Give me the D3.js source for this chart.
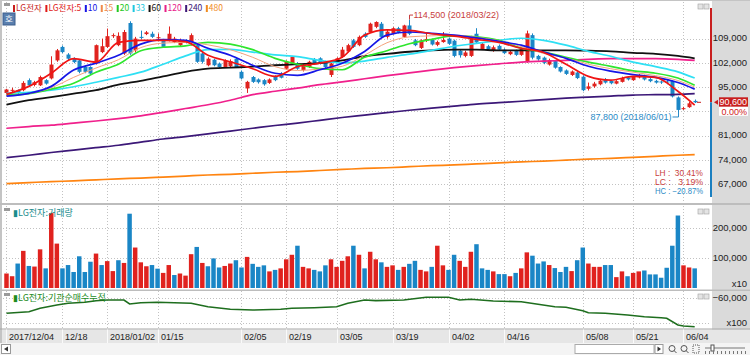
<!DOCTYPE html>
<html><head><meta charset="utf-8">
<script src="https://cdn.jsdelivr.net/npm/d3@7"></script>
<style>
body{margin:0;background:#fff;overflow:hidden}
svg{display:block}
text{font-family:"Liberation Sans",Arial,sans-serif}
.kr{font-family:"Noto Sans CJK KR","Liberation Sans",sans-serif}
</style></head>
<body><svg id="c" width="750" height="355"></svg>
<script>
// ---------------- DATA ----------------
const dates = ["2017-12-04","2017-12-05","2017-12-06","2017-12-07","2017-12-08","2017-12-11","2017-12-12","2017-12-13","2017-12-14","2017-12-15","2017-12-18","2017-12-19","2017-12-20","2017-12-21","2017-12-22","2017-12-26","2017-12-27","2017-12-28","2018-01-02","2018-01-03","2018-01-04","2018-01-05","2018-01-08","2018-01-09","2018-01-10","2018-01-11","2018-01-12","2018-01-15","2018-01-16","2018-01-17","2018-01-18","2018-01-19","2018-01-22","2018-01-23","2018-01-24","2018-01-25","2018-01-26","2018-01-29","2018-01-30","2018-01-31","2018-02-01","2018-02-02","2018-02-05","2018-02-06","2018-02-07","2018-02-08","2018-02-09","2018-02-12","2018-02-13","2018-02-14","2018-02-19","2018-02-20","2018-02-21","2018-02-22","2018-02-23","2018-02-26","2018-02-27","2018-02-28","2018-03-02","2018-03-05","2018-03-06","2018-03-07","2018-03-08","2018-03-09","2018-03-12","2018-03-13","2018-03-14","2018-03-15","2018-03-16","2018-03-19","2018-03-20","2018-03-21","2018-03-22","2018-03-23","2018-03-26","2018-03-27","2018-03-28","2018-03-29","2018-03-30","2018-04-02","2018-04-03","2018-04-04","2018-04-05","2018-04-06","2018-04-09","2018-04-10","2018-04-11","2018-04-12","2018-04-13","2018-04-16","2018-04-17","2018-04-18","2018-04-19","2018-04-20","2018-04-23","2018-04-24","2018-04-25","2018-04-26","2018-04-27","2018-04-30","2018-05-02","2018-05-03","2018-05-04","2018-05-08","2018-05-09","2018-05-10","2018-05-11","2018-05-14","2018-05-15","2018-05-16","2018-05-17","2018-05-18","2018-05-21","2018-05-23","2018-05-24","2018-05-25","2018-05-28","2018-05-29","2018-05-30","2018-05-31","2018-06-01","2018-06-04","2018-06-05","2018-06-07"];

const opens  = [93300,94000,94100,94100,97000,95600,95500,97000,97500,102700,
  106600,104400,103200,102700,100800,100800,101800,105100,106600,109700,
  107100,104700,113500,105600,109500,110300,110400,109100,108500,108500,
  108000,107100,108300,107600,107100,104700,101300,102900,101800,100800,
  101000,103200,99400,94600,97900,97200,97000,96200,98100,98900,
  100300,101800,101800,99900,100800,103000,103300,102300,98500,102300,
  103700,105300,108500,107100,110400,110900,112400,113300,109500,110500,
  112000,109500,112800,108500,106300,108300,108600,107200,108000,109000,
  108400,105500,104000,104000,110400,106000,106800,105500,106900,105800,
  104500,105500,104300,102500,110000,104000,103500,101500,102500,100800,
  99800,98500,99200,98000,94500,95200,95800,97300,96800,96000,
  96500,97800,97000,97800,98300,97300,96800,96600,96600,96800,
  92000,88700,89200,91000];
const highs  = [94500,94800,94300,96700,97500,96800,98300,97300,103900,106000,
  107000,104800,103600,103000,101200,101000,107300,109000,111900,110500,
  110800,111500,114000,109500,111300,111200,111000,110500,108900,112500,
  109500,109000,108800,110500,107500,105000,103600,103200,102100,103000,
  103000,103500,99800,96800,98200,97500,97300,97500,98400,99300,
  102700,104000,102200,101600,102600,103400,103600,102600,102100,103600,
  106600,107500,108900,109900,110800,113600,114000,113800,111500,112300,
  112400,113000,114500,108900,108800,110600,109000,108400,110900,109300,
  108700,106000,105500,109800,112000,107800,107200,107000,107300,106200,
  105600,105800,106400,111300,110500,104300,103800,103200,102800,101000,
  100100,99800,99500,98400,96300,96500,97200,97600,97000,97000,
  98000,98100,98200,98800,98600,97600,97100,96900,97000,97000,
  92300,89300,90700,91400];
const lows   = [93000,93600,93000,93800,95000,95200,95300,95700,97200,102300,
  104800,102800,101900,99000,99000,98500,101500,104800,106300,109200,
  106800,104300,104300,105000,108800,110000,109200,108800,106300,108200,
  107700,106800,107600,107000,102000,101800,101000,101000,100500,100500,
  100700,100500,97200,93300,96200,96000,95400,95900,96700,97500,
  100000,101500,100000,99500,100500,101500,101500,100500,97900,101900,
  103400,105000,106300,106800,109200,110600,112000,109200,109000,110200,
  110500,109200,110000,106800,106000,108000,107000,106800,107800,107200,
  103600,103500,103600,103700,107500,105700,105600,105200,105500,104500,
  104200,104000,104000,102000,103000,102600,101600,101200,100300,99200,
  98500,98200,97300,93800,94000,94800,95500,96000,95800,95800,
  96300,96900,96800,97500,96900,96400,96000,95900,95800,92000,
  87800,88400,89000,90400];
const closes = [94300,94200,93400,96200,95500,96400,97900,96000,101500,105600,
  105100,103200,102200,99400,99400,98900,107100,106800,109700,110000,
  109800,110900,104700,109000,109200,110800,109500,109400,106600,110400,
  109000,108500,108000,110000,102300,102300,103200,101300,100800,102700,
  102500,100800,97500,96500,96500,96400,95800,97200,97000,97700,
  102300,103700,100300,101300,102300,101800,101800,100800,101800,103300,
  105800,107100,106600,109500,109500,113300,113800,109500,111000,112000,
  110800,112800,110400,107100,108500,108900,107300,108000,108600,107500,
  104000,104200,105000,109300,107900,107500,106000,106500,105800,104800,
  105200,104300,106000,110500,103500,103000,102000,102800,100600,99500,
  98800,99500,97600,94100,95200,96000,96800,96300,96100,96700,
  97600,97200,97900,98400,97200,96700,96300,96400,96400,92300,
  88400,88900,90300,90600];

const volumes = [48000,39000,81000,123000,73000,71000,128000,65000,248000,147000,
  65000,76000,53000,105000,53000,87000,114000,76000,89000,56000,
  92000,83000,246000,134000,85000,72000,76000,64000,50000,76000,
  43000,48000,41000,112000,136000,83000,72000,98000,68000,73000,
  81000,92000,68000,103000,80000,70000,75000,55000,60000,65000,
  95000,110000,140000,70000,65000,60000,55000,75000,95000,70000,
  90000,105000,140000,110000,65000,120000,95000,85000,70000,75000,
  60000,70000,80000,90000,60000,55000,70000,140000,75000,60000,
  110000,90000,70000,120000,145000,65000,60000,55000,46000,46000,
  39000,50000,65000,118000,107000,81000,88000,76000,66000,53000,
  70000,56000,92000,134000,81000,70000,70000,76000,76000,36000,
  55000,39000,50000,55000,58000,45000,45000,34000,67000,140000,
  240000,75000,68000,65000];
// volume bar colour: "u" = up (red), "d" = down (blue)
const volDir = ["u","u","d","u","d","u","u","d","u","u",
  "d","d","d","d","d","d","u","d","u","u",
  "d","u","d","u","u","u","d","d","u","u",
  "d","u","u","u","d","u","d","d","d","u",
  "u","d","d","u","d","d","d","u","d","u",
  "u","u","d","u","u","d","d","d","u","u",
  "u","u","d","u","d","u","u","d","u","u",
  "d","u","d","d","u","u","d","u","u","d",
  "d","u","u","u","d","d","d","u","d","d",
  "u","d","u","u","d","d","d","u","d","d",
  "d","u","d","d","u","u","u","d","d","u",
  "u","d","u","u","d","d","d","d","d","d",
  "d","u","u","d"];

const tickDates  = ["2017-12-04","2017-12-18","2018-01-02","2018-01-15","2018-02-05","2018-02-19","2018-03-05","2018-03-19","2018-04-02","2018-04-16","2018-05-08","2018-05-21","2018-06-04"];
const tickLabels = ["2017/12/04","12/18","2018/01/02","01/15","02/05","02/19","03/05","03/19","04/02","04/16","05/08","05/21","06/04"];
const priceTicks = [67000,74000,81000,88000,95000,102000,109000];
const volTicks   = [100000,200000];
const instTicks  = [-60000];

// moving averages read at sample dates
const maDates = ["2017-12-04","2017-12-08","2017-12-14","2017-12-20","2017-12-27","2018-01-04","2018-01-10","2018-01-16","2018-01-22","2018-01-26","2018-02-01","2018-02-07","2018-02-13","2018-02-21","2018-02-27","2018-03-06","2018-03-12","2018-03-16","2018-03-22","2018-03-28","2018-04-03","2018-04-09","2018-04-13","2018-04-19","2018-04-25","2018-05-02","2018-05-09","2018-05-15","2018-05-21","2018-05-28","2018-06-01","2018-06-07"];
const ma5   = [92900,95200,99000,103200,102200,107900,108500,108500,108100,104200,102300,100300,98100,100900,101900,103600,110000,111500,111400,110400,109700,108800,107900,106200,105000,101600,98100,97000,98100,97800,93800,89800];
const ma10  = [92400,93200,95200,99900,101900,104200,107400,108700,108500,106200,104200,101300,99000,98400,100000,101900,105300,110000,110900,110500,110000,109200,108200,107100,105100,103300,101000,99600,98600,97800,96300,94400];
const ma15  = [92500,93100,94800,97800,100500,102900,106400,107700,107900,107200,105800,103600,100900,99800,100200,101000,104200,107800,109500,109800,110000,109400,108400,106700,104700,103400,101600,100300,99300,98300,96900,95000];
const ma20  = [92700,93100,94400,96100,99300,101600,105500,106500,106900,107900,107400,105800,103300,101600,100300,100000,103600,105500,107500,108800,109800,109500,108500,106200,105100,103600,102200,101000,99700,99000,97600,95500];
const ma33  = [93200,93500,94100,95100,96400,97800,99300,101600,104000,105800,105900,105100,104300,103800,102700,102000,102500,103600,104500,105600,106800,107600,108500,109100,108500,107100,105300,103900,102200,100900,99400,97600];
const ma60  = [89900,91200,92100,93100,94100,95700,96800,98100,99400,100300,100600,100900,101300,101600,101900,102700,103900,104600,105200,105600,105800,105800,105600,105600,105600,105600,105500,105300,104900,104600,104000,103300];
const ma120 = [83100,83600,84000,84600,85200,85900,86700,87700,88800,89900,91200,92800,93800,94700,95700,96500,97400,98300,99100,99900,100600,101200,101700,102200,102500,102700,103000,103200,103200,103200,103000,102700];
const ma240 = [74600,75300,76100,76800,77500,78200,79100,80000,80700,81500,82300,83100,83900,84600,85400,86200,86900,87600,88300,88900,89500,90100,90500,90900,91400,91800,92100,92400,92700,92800,92900,93100];
const ma480 = [67100,67400,67700,67900,68200,68500,68700,69000,69300,69600,69800,70100,70400,70600,70900,71200,71500,71700,72000,72300,72500,72800,73100,73400,73600,73900,74200,74400,74700,75000,75300,75500];

// institutional cumulative net buying (x100 shares)
const instDates  = ["2017-12-04","2017-12-08","2017-12-12","2017-12-15","2017-12-19","2017-12-22","2017-12-27","2018-01-02","2018-01-05","2018-01-08","2018-01-10","2018-01-15","2018-01-18","2018-01-23","2018-01-26","2018-02-01","2018-02-07","2018-02-14","2018-02-20","2018-02-26","2018-03-05","2018-03-07","2018-03-12","2018-03-14","2018-03-21","2018-03-27","2018-04-02","2018-04-04","2018-04-06","2018-04-12","2018-04-19","2018-04-24","2018-04-27","2018-05-02","2018-05-08","2018-05-09","2018-05-14","2018-05-18","2018-05-24","2018-05-29","2018-05-30","2018-06-01","2018-06-04","2018-06-07"];
const instValues = [-81500,-79300,-74600,-70100,-67700,-66300,-64100,-63200,-63200,-68700,-66900,-66300,-66900,-67700,-72400,-76000,-77000,-76000,-74600,-73800,-72400,-67700,-63200,-64100,-63200,-59400,-59400,-63200,-62200,-64600,-65500,-69100,-72400,-73200,-77900,-80700,-81500,-83900,-86200,-87600,-88400,-97600,-99000,-100000];

const legendLabels = ["LG전자","LG전자:5","10","15","20","33","60","120","240","480"];
const maSeries = [
  {name:"5",  values:ma5,   color:"#f01414", w:1.7},
  {name:"10", values:ma10,  color:"#1616e6", w:1.7},
  {name:"15", values:ma15,  color:"#f4a27c", w:1.0},
  {name:"20", values:ma20,  color:"#2ee62e", w:1.7},
  {name:"33", values:ma33,  color:"#2ee0f4", w:1.7},
  {name:"60", values:ma60,  color:"#111111", w:1.8},
  {name:"120",values:ma120, color:"#f0208c", w:1.7},
  {name:"240",values:ma240, color:"#3c1878", w:1.7},
  {name:"480",values:ma480, color:"#ff8410", w:1.7}
];
const legendColors = ["#c81e1e","#e01818","#1616e6","#f08a4a","#22c822","#1ec8e0","#111111","#e8208a","#3c1878","#f08a1e"];

// ---------------- LAYOUT ----------------
const UP = "#e0221e", DN = "#1a86c6";
const svg = d3.select("#c");
const X0 = 3.7, STEP = 5.595;
const x = d3.scaleBand().domain(dates).range([X0, X0 + STEP * dates.length]).paddingInner(0.2).paddingOuter(0.1);
const cx = d => x(d) + x.bandwidth() / 2;
const PL = 3, PR = 711;
const yP = d3.scaleLinear().domain([67000,109000]).range([184,38.6]);
const yV = d3.scaleLinear().domain([0,200000]).range([288,227.6]);
const yI = d3.scaleLinear().domain([-100000,-60000]).range([326.7,297.7]);
const panels = {p:[2,203], v:[206,289.5], i:[291,329]};
const fmtN = d3.format(",");

svg.append("rect").attr("width",750).attr("height",355).attr("fill","#fff");
svg.append("rect").attr("x",712).attr("y",0).attr("width",38).attr("height",343).attr("fill","#dadada");
svg.append("rect").attr("x",0).attr("y",329.5).attr("width",750).attr("height",13.5).attr("fill","#e6e6e6");
svg.append("rect").attr("x",0).attr("y",0).attr("width",2).attr("height",343).attr("fill","#c4c4c4");

const defs = svg.append("defs");
Object.entries(panels).forEach(([k,[a,b]]) => {
  defs.append("clipPath").attr("id","clip-"+k).append("rect").attr("x",PL).attr("y",a).attr("width",PR-PL).attr("height",b-a);
});

// grids
const grid = svg.append("g").attr("stroke","#c2c2c2").attr("stroke-dasharray","1,2").attr("stroke-width",1);
Object.values(panels).forEach(([a,b]) => {
  tickDates.forEach(d => grid.append("line").attr("x1",Math.round(cx(d))+0.5).attr("x2",Math.round(cx(d))+0.5).attr("y1",a).attr("y2",b));
});
priceTicks.forEach(v => grid.append("line").attr("x1",PL).attr("x2",PR).attr("y1",Math.round(yP(v))+0.5).attr("y2",Math.round(yP(v))+0.5));
volTicks.forEach(v => grid.append("line").attr("x1",PL).attr("x2",PR).attr("y1",Math.round(yV(v))+0.5).attr("y2",Math.round(yV(v))+0.5));
instTicks.forEach(v => grid.append("line").attr("x1",PL).attr("x2",PR).attr("y1",Math.round(yI(v))+0.5).attr("y2",Math.round(yI(v))+0.5));
grid.append("line").attr("x1",PL).attr("x2",PR).attr("y1",323.5).attr("y2",323.5);

// panel separators
svg.append("rect").attr("x",0).attr("y",203).attr("width",750).attr("height",2).attr("fill","#bdbdbd");
svg.append("rect").attr("x",0).attr("y",289.5).attr("width",750).attr("height",1.5).attr("fill","#bdbdbd");
svg.append("rect").attr("x",0).attr("y",328.5).attr("width",750).attr("height",1).attr("fill","#a8a8a8");
svg.append("rect").attr("x",0).attr("y",0).attr("width",750).attr("height",1).attr("fill","#c4c4c4");

// ---------------- PRICE PANEL ----------------
const gP = svg.append("g").attr("clip-path","url(#clip-p)");
const candles = dates.map((d,i)=>({d,o:opens[i],h:highs[i],l:lows[i],c:closes[i]}));
const bw = 4;
gP.selectAll("line.wick").data(candles).join("line")
  .attr("x1",d=>Math.round(cx(d.d))+0.5).attr("x2",d=>Math.round(cx(d.d))+0.5)
  .attr("y1",d=>yP(d.h)).attr("y2",d=>yP(d.l))
  .attr("stroke",d=>d.c>=d.o?UP:DN).attr("stroke-width",1);
gP.selectAll("rect.body").data(candles).join("rect")
  .attr("x",d=>Math.round(cx(d.d))+0.5-bw/2).attr("width",bw)
  .attr("y",d=>yP(Math.max(d.o,d.c))).attr("height",d=>Math.max(1,Math.abs(yP(d.o)-yP(d.c))))
  .attr("fill",d=>d.c>=d.o?UP:DN);

const maLine = d3.line().x(d=>cx(d[0])).y(d=>yP(d[1])).curve(d3.curveMonotoneX);
[...maSeries].reverse().forEach(s => {
  gP.append("path").attr("d",maLine(maDates.map((d,i)=>[d,s.values[i]])))
    .attr("fill","none").attr("stroke",s.color).attr("stroke-width",s.w).attr("stroke-linejoin","round");
});

// high / low annotations
const hiIdx = d3.maxIndex(highs), loIdx = d3.minIndex(lows);
const hx = Math.round(cx(dates[hiIdx]))+0.5, hy = yP(highs[hiIdx]);
const fmtDate = s => s.replace(/-/g,"/");
svg.append("path").attr("d",`M${hx},${hy} V${hy-4.5} H${hx+3.5}`).attr("fill","none").attr("stroke","#c83c3c");
svg.append("text").attr("x",hx+4).attr("y",hy-4.5).attr("dy","0.35em").attr("font-size",9).attr("fill","#c83c3c")
  .text(`${fmtN(highs[hiIdx])} (${fmtDate(dates[hiIdx])})`);
const lx = Math.round(cx(dates[loIdx]))+0.5, ly = yP(lows[loIdx]);
svg.append("path").attr("d",`M${lx},${ly} V${ly+5} H${lx-6}`).attr("fill","none").attr("stroke","#2a8ac6");
svg.append("text").attr("x",lx-7).attr("y",ly+5).attr("dy","0.35em").attr("text-anchor","end").attr("font-size",9).attr("fill","#2a8ac6")
  .text(`${fmtN(lows[loIdx])} (${fmtDate(dates[loIdx])})`);

// LH / LC / HC
const cur = closes[closes.length-1];
const pct = v => d3.format(".2f")(v*100)+"%";
const stats = [["LH :  ",highs[hiIdx]/lows[loIdx]-1,"#c83c3c"],["LC :   ",cur/lows[loIdx]-1,"#c83c3c"],["HC : ",cur/highs[hiIdx]-1,"#2a8ac6"]];
stats.forEach((s,k)=>{
  const yy = 173.5 + k*8.6;
  svg.append("text").attr("x",703).attr("y",yy).attr("dy","0.35em").attr("text-anchor","end").attr("font-size",8.5)
    .attr("fill",s[2]).attr("textLength",48).attr("lengthAdjust","spacingAndGlyphs").style("white-space","pre")
    .text(s[0]+pct(s[1]));
});

// legend
let lxp = 13;
const gl = svg.append("g");
legendLabels.forEach((t,k)=>{
  gl.append("rect").attr("x",lxp).attr("y",5).attr("width",2).attr("height",7).attr("fill",legendColors[k]);
  const tt = gl.append("text").attr("class","kr").attr("x",lxp+3).attr("y",8.5).attr("dy","0.35em").attr("font-size",8.5).attr("fill",legendColors[k]).text(t);
  lxp += 3 + tt.node().getComputedTextLength() + 3.5;
});
[[3,3],[3,208],[3,293]].forEach(([a,b])=>svg.append("rect").attr("x",a+1).attr("y",b).attr("width",6).attr("height",3).attr("fill","#9a9a9a"));
svg.append("rect").attr("x",3).attr("y",13).attr("width",12).attr("height",12).attr("fill","#5a7fae").attr("stroke","#3d5f8c");
svg.append("text").attr("class","kr").attr("x",9).attr("y",19).attr("dy","0.35em").attr("text-anchor","middle").attr("font-size",8.5).attr("fill","#fff").text("호");
[4,209,294].forEach(b=>{
  [698,704].forEach(a=>svg.append("rect").attr("x",a).attr("y",b).attr("width",5).attr("height",5).attr("fill","#e4e4e4").attr("stroke","#a0a0a0").attr("stroke-width",0.6));
});

// price axis labels (labels hidden behind the current-price box are skipped)
const cur_y = yP(cur);
const ga = svg.append("g").attr("font-size",9.5).attr("fill","#222").attr("text-anchor","end");
priceTicks.filter(v=>Math.abs(yP(v)-cur_y-4)>12).forEach(v=>ga.append("text").attr("x",747).attr("y",yP(v)-0.5).attr("dy","0.35em").text(fmtN(v)));
// current price indicator
svg.append("line").attr("x1",711).attr("x2",711).attr("y1",8).attr("y2",cur_y).attr("stroke","#c81e1e").attr("stroke-width",2);
svg.append("line").attr("x1",711).attr("x2",711).attr("y1",cur_y).attr("y2",197).attr("stroke","#1a7fc0").attr("stroke-width",2);
svg.append("path").attr("d",`M714,${cur_y} L718,${cur_y-2.5} L718,${cur_y+2.5} Z`).attr("fill","#c81e1e");
svg.append("line").attr("x1",697).attr("x2",701).attr("y1",cur_y).attr("y2",cur_y).attr("stroke","#c81e1e");
svg.append("rect").attr("x",719).attr("y",cur_y-5).attr("width",29).attr("height",9.5).attr("fill","#c81e1e");
svg.append("text").attr("x",747).attr("y",cur_y-0.3).attr("dy","0.35em").attr("text-anchor","end").attr("font-size",9).attr("fill","#fff").text(fmtN(cur));
svg.append("rect").attr("x",719).attr("y",cur_y+4.5).attr("width",29).attr("height",9).attr("fill","#fff");
svg.append("text").attr("x",747).attr("y",cur_y+9.3).attr("dy","0.35em").attr("text-anchor","end").attr("font-size",9).attr("fill","#d02020").text(d3.format(".2f")((cur/closes[closes.length-1]-1)*100)+"%");

// ---------------- VOLUME PANEL ----------------
const gV = svg.append("g").attr("clip-path","url(#clip-v)");
gV.selectAll("rect").data(dates.map((d,i)=>({d,v:volumes[i],u:volDir[i]==="u"}))).join("rect")
  .attr("x",d=>x(d.d)).attr("width",x.bandwidth())
  .attr("y",d=>yV(d.v)).attr("height",d=>yV(0)-yV(d.v))
  .attr("fill",d=>d.u?UP:DN);
svg.append("text").attr("class","kr").attr("x",13).attr("y",212.5).attr("dy","0.35em").attr("font-size",9).attr("fill","#1a8c8c").text("▮LG전자:거래량");
volTicks.forEach(v=>ga.append("text").attr("x",747).attr("y",yV(v)).attr("dy","0.35em").text(fmtN(v)));
ga.append("text").attr("x",747).attr("y",284).attr("dy","0.35em").text("x10");

// ---------------- INSTITUTION PANEL ----------------
const gI = svg.append("g").attr("clip-path","url(#clip-i)");
gI.append("path").attr("d",d3.line().x(d=>cx(d[0])).y(d=>yI(d[1]))(instDates.map((d,i)=>[d,instValues[i]])))
  .attr("fill","none").attr("stroke","#1e6e1e").attr("stroke-width",1.6);
svg.append("text").attr("class","kr").attr("x",13).attr("y",297.5).attr("dy","0.35em").attr("font-size",9).attr("fill","#1e8c1e").text("▮LG전자:기관순매수누적");
instTicks.forEach(v=>ga.append("text").attr("x",747).attr("y",yI(v)).attr("dy","0.35em").text(fmtN(v)));
ga.append("text").attr("x",747).attr("y",322.7).attr("dy","0.35em").text("x100");

// ---------------- X AXIS ----------------
tickDates.forEach((d,k)=>{
  const xx = Math.round(cx(d))+0.5;
  svg.append("line").attr("x1",xx).attr("x2",xx).attr("y1",329.5).attr("y2",343).attr("stroke","#fafafa");
  svg.append("text").attr("x",xx+2.5).attr("y",336.5).attr("dy","0.35em").attr("font-size",9).attr("fill","#222").text(tickLabels[k]);
});

// bottom scroll bar
svg.append("rect").attr("x",0).attr("y",343).attr("width",750).attr("height",12).attr("fill","#f4f4f4");
svg.append("rect").attr("x",1.5).attr("y",344.5).attr("width",9).attr("height",9).attr("fill","#fff").attr("stroke","#999");
svg.append("path").attr("d","M4,349 L8,346.5 L8,351.5 Z").attr("fill","#333");
svg.append("rect").attr("x",575).attr("y",344.5).attr("width",79).attr("height",9).attr("fill","#fff").attr("stroke","#aaa");
svg.append("rect").attr("x",655).attr("y",344.5).attr("width",8).attr("height",9).attr("fill","#fff").attr("stroke","#999");
svg.append("path").attr("d","M657.5,346.5 L661,349 L657.5,351.5 Z").attr("fill","#333");
[672,684].forEach(a=>{svg.append("circle").attr("cx",a).attr("cy",348.5).attr("r",3).attr("fill","none").attr("stroke","#555");
  svg.append("line").attr("x1",a+2).attr("y1",350.5).attr("x2",a+4.5).attr("y2",353).attr("stroke","#555");});
svg.append("rect").attr("x",693).attr("y",345).attr("width",6).attr("height",8).attr("fill","none").attr("stroke","#555").attr("stroke-dasharray","1,1");
svg.append("line").attr("x1",705).attr("x2",745).attr("y1",348).attr("y2",348).attr("stroke","#777");
svg.append("rect").attr("x",711).attr("y",345).attr("width",3).attr("height",6).attr("fill","#fff").attr("stroke","#555");
for(let t=705;t<=745;t+=4) svg.append("line").attr("x1",t+0.5).attr("x2",t+0.5).attr("y1",351).attr("y2",354).attr("stroke","#777");
</script></body></html>
